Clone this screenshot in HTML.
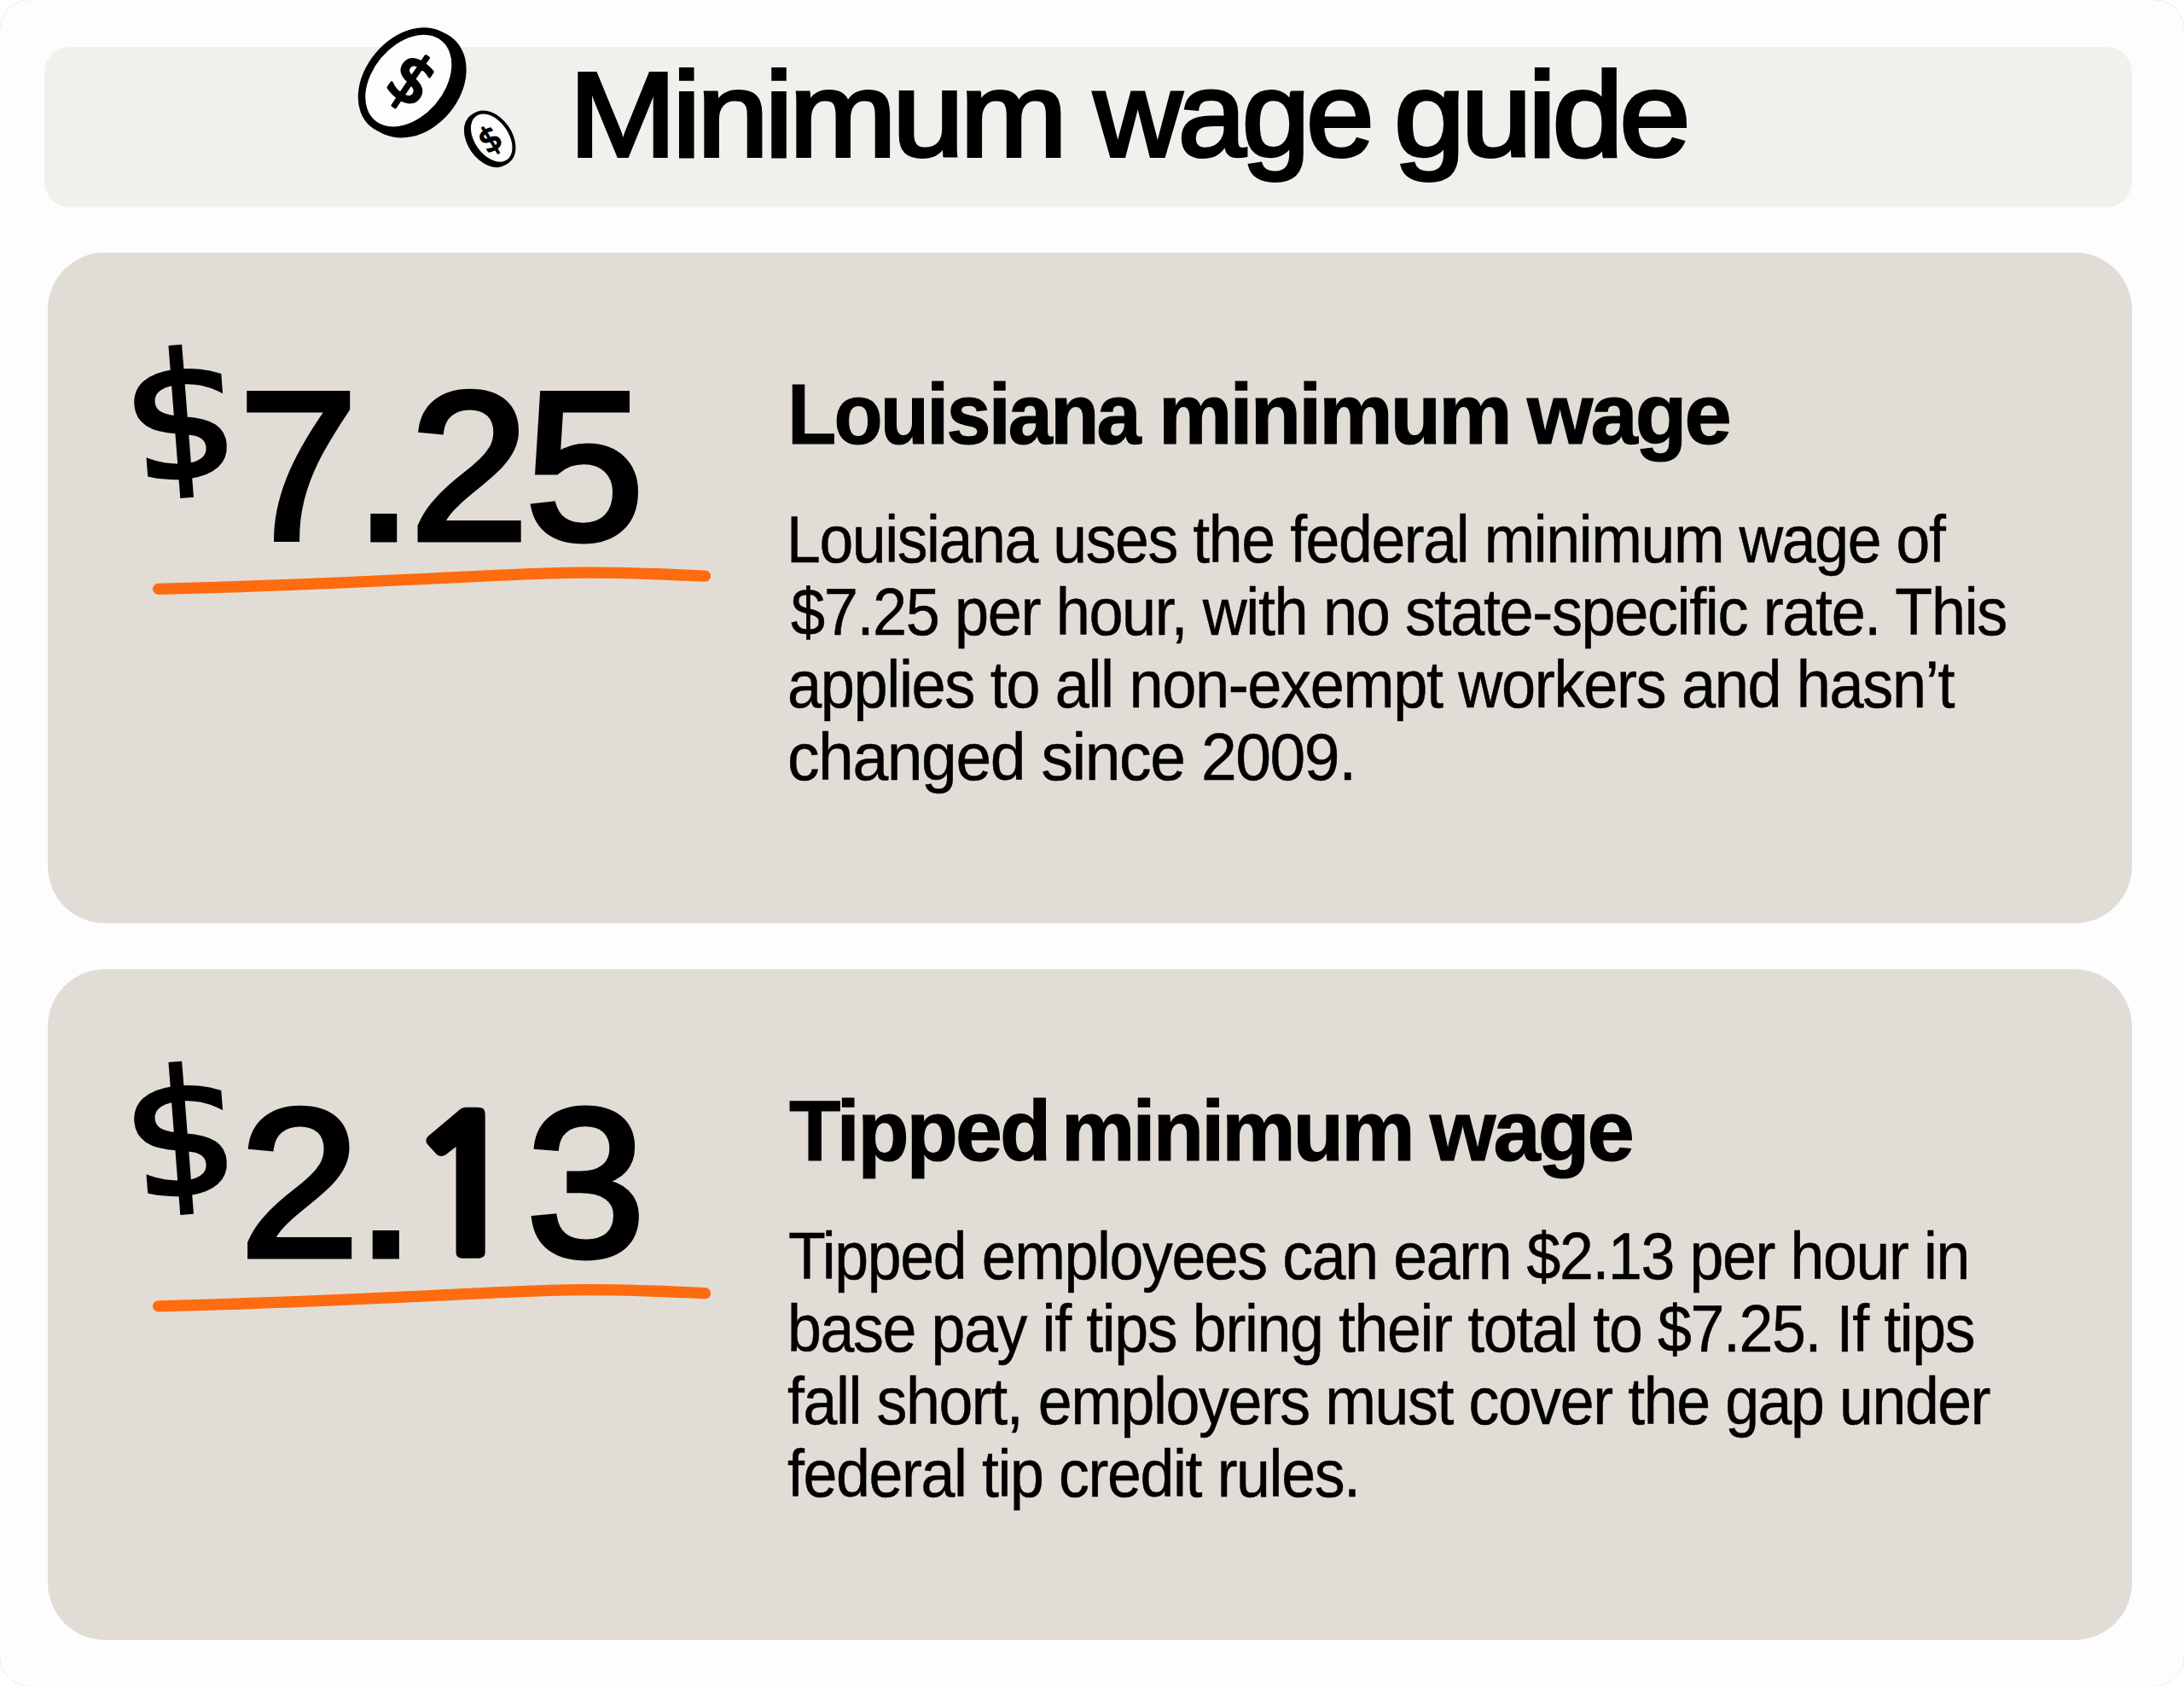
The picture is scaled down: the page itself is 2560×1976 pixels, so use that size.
<!DOCTYPE html>
<html lang="en">
<head>
<meta charset="utf-8">
<title>Minimum wage guide</title>
<style>
  html, body { margin: 0; padding: 0; }
  body {
    width: 2560px; height: 1976px; overflow: hidden;
    background: #ffffff;
    font-family: "Liberation Sans", sans-serif;
    color: #000000;
  }
  .page {
    position: relative; width: 2560px; height: 1976px;
    background: #fdfdfd; border-radius: 33.5px;
  }
  /* Text runs: each run is a zero-width inline-block nudged into place, so the
     document text still reads as continuous sentences. */
  h1, h2, p, .num {
    margin: 0; padding: 0; font-weight: 400; position: absolute; left: 0; top: 0;
    font-size: 0; line-height: 0; letter-spacing: 0; white-space: nowrap;
  }
  .t {
    display: inline-block; position: relative; width: 0; vertical-align: top;
    white-space: nowrap; line-height: 1; transform-origin: 0 0;
  }
  .hdr { position: absolute; left:52.4px;top:54.5px;width:2446.9px;height:188.8px;border-radius:30px; background: #f1f0ec; }
  .card { position: absolute; background: #e1ddd6; }
  .c1 { left:55.75px;top:296.1px;width:2443.55px;height:785.8px;border-radius:67px; }
  .c2 { left:55.75px;top:1135.6px;width:2443.55px;height:786.1px;border-radius:67px; }
  h1 .t { font-size:141px;-webkit-text-stroke:4px #000000;letter-spacing:-4.5px;paint-order:stroke fill; }
  h2 .t { font-weight: 700; font-size:101px;font-weight:700;-webkit-text-stroke:1.2px #000000;letter-spacing:-3px;paint-order:stroke fill; }
  .num .t { font-size:246px;-webkit-text-stroke:7px #000000;letter-spacing:-4px;paint-order:stroke fill; }
  .num .one { font-family:'NanumGothic','Liberation Sans',sans-serif;font-size:223px;font-weight:700;-webkit-text-stroke:7.3px #000000;paint-order:stroke fill; }
  .num .cur { font-family:'DejaVu Sans','Liberation Sans',sans-serif;font-size:192.5px;letter-spacing:0;width:122.43px;height:192.5px;margin-right:-122.43px;-webkit-text-stroke:5px #000000;stroke-linejoin:round;paint-order:stroke fill;transform-origin:61.22px 103.95px;transform:rotate(175.6deg) scaleX(1.094); }
  p.body .t { font-size:77px;-webkit-text-stroke:0.5px #000000;letter-spacing:-1.5px;paint-order:stroke fill; }
  .art { position: absolute; left: 0; top: 0; width: 2560px; height: 1976px; overflow: visible; pointer-events: none; }
  svg.ul { position: absolute; left: 0; top: 0; width: 900px; height: 786px; overflow: visible; }
  svg.ul path { fill: none; stroke: #ff6b0f; stroke-width: 13.3px; stroke-linecap: round; stroke-linejoin: round; }
</style>
</head>
<body>
<div class="page">

  <header class="hdr">
    <h1><span class="t" style="left:614.38px;top:9.00px;transform:scaleX(1.0723);">Minimum</span> <span class="t" style="left:1229.25px;top:9.00px;transform:scaleX(1.0152);">wage</span> <span class="t" style="left:1581.85px;top:9.00px;transform:scaleX(1.0627);">guide</span></h1>
  </header>

  <section class="card c1">
    <span class="num"><span class="t cur" style="left:94.44px;top:93.85px;">$</span><span class="t" style="left:223.85px;top:128.40px;transform:scaleX(1.0172);">7.25</span></span>
    <svg class="ul" viewBox="0 0 900 786" aria-hidden="true">
      <path transform="translate(-55.75 -296.10)" d="M185.4 690.4 C 290 687.8, 400 683.2, 500 678.4 C 560 675.5, 620 672, 665 671.4 C 720 670.7, 780 673, 826.2 675.3"/>
    </svg>
    <h2><span class="t" style="left:867.44px;top:139.40px;transform:scaleX(0.9266);">Louisiana</span> <span class="t" style="left:1302.23px;top:139.40px;transform:scaleX(0.9624);">minimum</span> <span class="t" style="left:1733.98px;top:139.40px;transform:scaleX(0.9845);">wage</span></h2>
    <p class="body">
      <span class="t" style="left:866.67px;top:298.40px;transform:scaleX(0.9293);">Louisiana uses the federal minimum wage of</span>
      <span class="t" style="left:870.81px;top:383.25px;transform:scaleX(0.9365);">$7.25 per hour, with no state-specific rate. This</span>
      <span class="t" style="left:867.14px;top:468.10px;transform:scaleX(0.9378);">applies to all non-exempt workers and hasn’t</span>
      <span class="t" style="left:867.02px;top:552.95px;transform:scaleX(0.9757);">changed since 2009.</span>
    </p>
  </section>

  <section class="card c2">
    <span class="num"><span class="t cur" style="left:94.44px;top:94.35px;">$</span><span class="t" style="left:225.02px;top:128.50px;transform:scaleX(1.0254);">2.</span><span class="t one" style="left:416.33px;top:145.50px;transform:scaleX(1.0968);">1</span><span class="t" style="left:561.14px;top:128.50px;transform:scaleX(1.0187);">3</span></span>
    <svg class="ul" viewBox="0 0 900 786" aria-hidden="true">
      <path transform="translate(-55.75 -295.60)" d="M185.4 690.4 C 290 687.8, 400 683.2, 500 678.4 C 560 675.5, 620 672, 665 671.4 C 720 670.7, 780 673, 826.2 675.3"/>
    </svg>
    <h2><span class="t" style="left:868.77px;top:139.90px;transform:scaleX(0.9780);">Tipped</span> <span class="t" style="left:1188.48px;top:139.90px;transform:scaleX(0.9624);">minimum</span> <span class="t" style="left:1620.23px;top:139.90px;transform:scaleX(0.9847);">wage</span></h2>
    <p class="body">
      <span class="t" style="left:868.32px;top:298.90px;transform:scaleX(0.9310);">Tipped employees can earn $2.13 per hour in</span>
      <span class="t" style="left:867.59px;top:383.75px;transform:scaleX(0.9320);">base pay if tips bring their total to $7.25. If tips</span>
      <span class="t" style="left:867.72px;top:468.60px;transform:scaleX(0.9305);">fall short, employers must cover the gap under</span>
      <span class="t" style="left:867.72px;top:553.45px;transform:scaleX(0.9314);">federal tip credit rules.</span>
    </p>
  </section>

  <svg class="art" viewBox="0 0 2560 1976" aria-hidden="true">
    <g id="corners" fill="none" stroke="#8c8474" stroke-opacity="0.3" stroke-width="1" stroke-dasharray="2 2">
      <path d="M0 33.5 A33.5 33.5 0 0 1 33.5 0"/>
      <path d="M2526.5 0 A33.5 33.5 0 0 1 2560 33.5"/>
      <path d="M2560 1942.5 A33.5 33.5 0 0 1 2526.5 1976"/>
      <path d="M33.5 1976 A33.5 33.5 0 0 1 0 1942.5"/>
    </g>
    <g id="coin-big">
      <g fill="#000000">
        <ellipse cx="478.8" cy="94.65" rx="50.4" ry="69.6" transform="rotate(40 478.8 94.65)"/>
        <ellipse cx="478.8" cy="94.65" rx="50.4" ry="69.6" transform="translate(3 1.6) rotate(40 478.8 94.65)"/>
        <ellipse cx="478.8" cy="94.65" rx="50.4" ry="69.6" transform="translate(6 3.2) rotate(40 478.8 94.65)"/>
        <ellipse cx="478.8" cy="94.65" rx="53" ry="69.6" transform="translate(7.4 3.6) rotate(40 478.8 94.65)"/>
      </g>
      <ellipse cx="478.8" cy="94.65" rx="41.8" ry="60.8" transform="rotate(40 478.8 94.65)" fill="#fdfdfd"/>
      <text x="483" y="93.4" transform="rotate(34 483 93.4)" text-anchor="middle" dominant-baseline="central"
            font-family="'DejaVu Sans', 'Liberation Sans', sans-serif" font-size="77"
            fill="#000000" stroke="#000000" stroke-width="3.4" stroke-linejoin="round">$</text>
    </g>
    <g id="coin-small">
      <g fill="#000000">
        <ellipse cx="576.2" cy="161.6" rx="24" ry="35.5" transform="rotate(-35 576.2 161.6)"/>
        <ellipse cx="576.2" cy="161.6" rx="24" ry="35.5" transform="translate(-2 1.2) rotate(-35 576.2 161.6)"/>
        <ellipse cx="576.2" cy="161.6" rx="24" ry="35.5" transform="translate(-4 2.4) rotate(-35 576.2 161.6)"/>
      </g>
      <ellipse cx="576.2" cy="161.6" rx="19.9" ry="31.4" transform="rotate(-35 576.2 161.6)" fill="#fdfdfd"/>
      <text x="574.4" y="163" transform="rotate(-32 574.4 163)" text-anchor="middle" dominant-baseline="central"
            font-family="'DejaVu Sans', 'Liberation Sans', sans-serif" font-size="39"
            fill="#000000" stroke="#000000" stroke-width="1.8" stroke-linejoin="round">$</text>
    </g>
  </svg>

</div>
</body>
</html>
